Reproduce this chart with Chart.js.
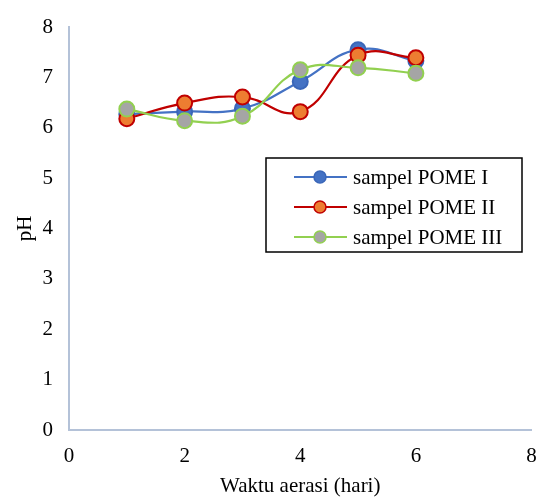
<!DOCTYPE html>
<html>
<head>
<meta charset="utf-8">
<script src="https://cdn.jsdelivr.net/npm/chart.js@4"></script>
<style>
  body { margin: 0; background: #fff; }
  #wrap { width: 541px; height: 497px; }
</style>
</head>
<body>
<div id="wrap"><canvas id="phChart" width="541" height="497"></canvas></div>
<script>
// waktu aerasi (hari)
const days = [1, 2, 3, 4, 5, 6];
// pH values
const pomeI = [6.27, 6.32, 6.38, 6.92, 7.55, 7.33];
const pomeII = [6.18, 6.49, 6.61, 6.32, 7.44, 7.39];
const pomeIII = [6.37, 6.14, 6.23, 7.15, 7.19, 7.08];
const seriesNames = ["sampel POME I", "sampel POME II", "sampel POME III"];

const serif = "'Liberation Serif', 'Times New Roman', serif";

function toPoints(values) {
  return days.map((d, i) => ({ x: d, y: values[i] }));
}

// order: higher number is drawn first (underneath)
function makeSet(label, values, line, fill, border, order) {
  return {
    label: label,
    data: toPoints(values),
    showLine: true,
    order: order,
    borderColor: line,
    borderWidth: 2.2,
    tension: 0.45,
    pointRadius: 7.5,
    pointBackgroundColor: fill,
    pointBorderColor: border,
    pointBorderWidth: 2,
  };
}

// legend box drawn inside the plot like the excel one
const boxLegend = {
  id: "boxLegend",
  afterDraw(chart) {
    const ctx = chart.ctx;
    const x = 266, y = 158, w = 256, h = 94;
    ctx.save();
    ctx.fillStyle = "#fff";
    ctx.fillRect(x, y, w, h);
    ctx.strokeStyle = "#000";
    ctx.lineWidth = 1.5;
    ctx.strokeRect(x, y, w, h);
    ctx.font = "21px " + serif;
    ctx.textBaseline = "middle";
    chart.data.datasets.forEach((ds, i) => {
      const ry = 177 + i * 30;
      ctx.strokeStyle = ds.borderColor;
      ctx.lineWidth = 2;
      ctx.beginPath();
      ctx.moveTo(294, ry);
      ctx.lineTo(347, ry);
      ctx.stroke();
      ctx.beginPath();
      ctx.arc(320, ry, 6, 0, Math.PI * 2);
      ctx.fillStyle = ds.pointBackgroundColor;
      ctx.fill();
      ctx.strokeStyle = ds.pointBorderColor;
      ctx.lineWidth = 1.5;
      ctx.stroke();
      ctx.fillStyle = "#000";
      ctx.fillText(ds.label, 353, ry + 1);
    });
    ctx.restore();
  },
};

const ctx = document.getElementById("phChart").getContext("2d");
new Chart(ctx, {
  type: "scatter",
  data: {
    datasets: [
      makeSet(seriesNames[0], pomeI, "#4472C4", "#4472C4", "#3a66b8", 3),
      makeSet(seriesNames[1], pomeII, "#C00000", "#ED7D31", "#C00000", 2),
      makeSet(seriesNames[2], pomeIII, "#92D050", "#A5A5A5", "#92D050", 1),
    ],
  },
  options: {
    responsive: false,
    animation: false,
    layout: { padding: { top: 27, right: 0, left: 0, bottom: 0 } },
    plugins: {
      legend: { display: false },
      tooltip: { enabled: false },
    },
    scales: {
      x: {
        type: "linear",
        min: 0,
        max: 8,
        ticks: { stepSize: 2, color: "#000", font: { family: serif, size: 21 }, padding: 6 },
        grid: { display: false },
        border: { display: true, color: "#b4c2d8", width: 2 },
        title: {
          display: true,
          text: "Waktu aerasi (hari)",
          color: "#000",
          font: { family: serif, size: 21, lineHeight: 1 },
          padding: { top: 0, bottom: 0 },
        },
        afterFit(scale) {
          scale.height = 67;
          scale.paddingRight = 3;
        },
      },
      y: {
        type: "linear",
        min: 0,
        max: 8,
        ticks: { stepSize: 1, color: "#000", font: { family: serif, size: 21 }, padding: 8 },
        grid: { display: false },
        border: { display: true, color: "#b4c2d8", width: 2 },
        title: {
          display: true,
          text: "pH",
          color: "#000",
          font: { family: serif, size: 21 },
          padding: { top: 13, bottom: 0 },
        },
        afterFit(scale) { scale.width = 69; },
      },
    },
  },
  plugins: [boxLegend],
});
</script>
</body>
</html>
